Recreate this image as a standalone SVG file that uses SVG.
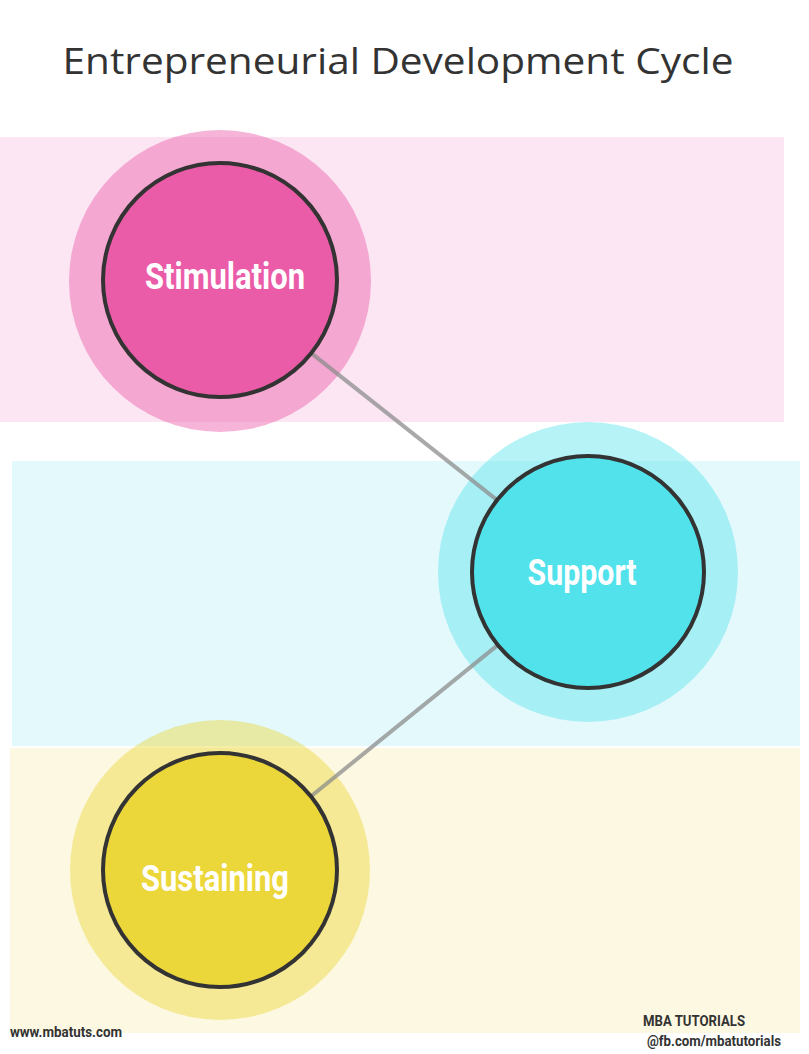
<svg xmlns="http://www.w3.org/2000/svg" width="809" height="1054" viewBox="0 0 809 1054">
<style>
.title{font-family:"Open Sans","Liberation Sans",sans-serif;font-size:37px;fill:#333;}
.lbl{font-family:Roboto,"Liberation Sans",sans-serif;font-weight:bold;font-size:37px;fill:#fff;text-anchor:middle;}
.foot{font-family:Roboto,"Liberation Sans",sans-serif;font-weight:bold;font-size:14px;fill:#333;}
.ring{stroke:#333;stroke-width:4;}
.conn{stroke:#8c8c8c;stroke-width:4;stroke-opacity:0.75;fill:none;}
</style>
<rect width="809" height="1054" fill="#fff"/>
<text class="title" x="398" y="74" text-anchor="middle" textLength="671" lengthAdjust="spacingAndGlyphs">Entrepreneurial Development Cycle</text>
<g id="bands">
<rect x="0" y="137" width="784" height="285" fill="#fce6f3"/>
<rect x="12" y="461" width="788" height="285" fill="#e3f9fc"/>
<rect x="10" y="748" width="790" height="285" fill="#fdf8e1"/>
</g>
<g id="halos">
<circle cx="220" cy="281" r="151" fill="#ea5ba8" fill-opacity="0.45"/>
<circle cx="588" cy="572" r="150" fill="#52e2ec" fill-opacity="0.42"/>
<circle cx="220" cy="870" r="150" fill="#ecd73a" fill-opacity="0.45"/>
</g>
<g id="connectors">
<line class="conn" x1="220" y1="281" x2="588" y2="572"/>
<line class="conn" x1="588" y1="572" x2="220" y2="870"/>
</g>
<g id="stimulation">
<circle class="ring" cx="220" cy="280" r="117" fill="#ea5ba8"/>
<text class="lbl" x="225" y="289" textLength="160" lengthAdjust="spacingAndGlyphs">Stimulation</text>
</g>
<g id="support">
<circle class="ring" cx="588" cy="572" r="116" fill="#52e2ec"/>
<text class="lbl" x="582" y="585" textLength="109" lengthAdjust="spacingAndGlyphs">Support</text>
</g>
<g id="sustaining">
<circle class="ring" cx="220" cy="870" r="117" fill="#ecd73a"/>
<text class="lbl" x="215" y="891" textLength="148" lengthAdjust="spacingAndGlyphs">Sustaining</text>
</g>
<g id="footer">
<text class="foot" x="10" y="1037" textLength="112" lengthAdjust="spacingAndGlyphs">www.mbatuts.com</text>
<text class="foot" x="643" y="1026" textLength="102" lengthAdjust="spacingAndGlyphs">MBA TUTORIALS</text>
<text class="foot" x="647" y="1046" textLength="134" lengthAdjust="spacingAndGlyphs">@fb.com/mbatutorials</text>
</g>
</svg>
